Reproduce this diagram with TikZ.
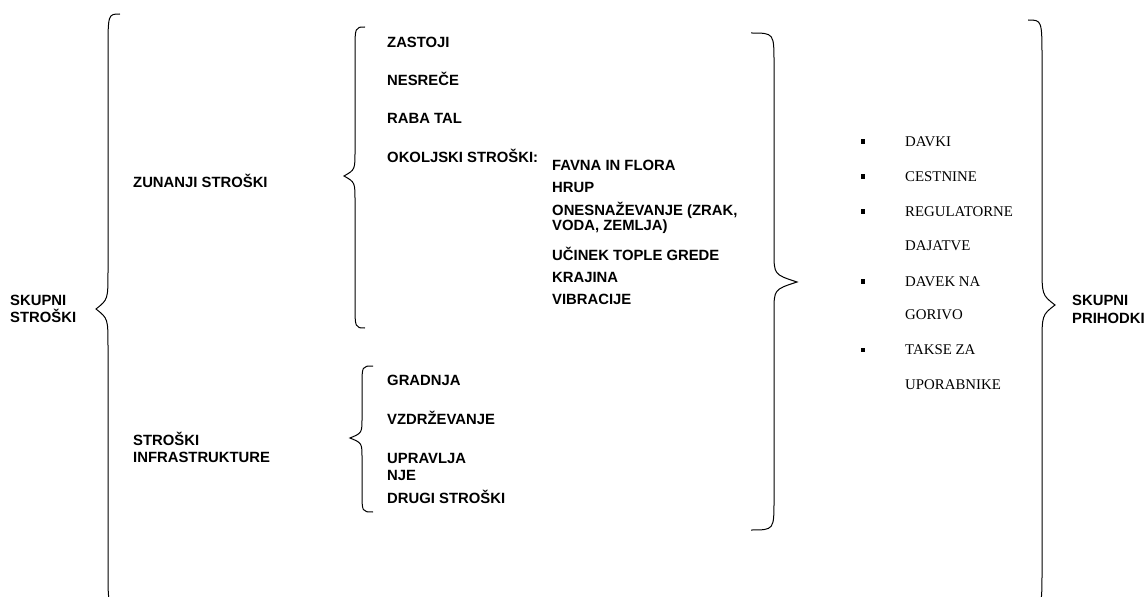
\documentclass[tikz,border=0pt]{standalone}
\usepackage{fontspec}
\setmainfont{Liberation Serif}
\setsansfont{Liberation Sans}
\usepackage{tikz}
\tikzstyle{lbl} = [font=\sffamily\bfseries\fontsize{14.9}{17}\selectfont, inner sep=0pt, anchor=base west, align=left]
\tikzstyle{item} = [font=\rmfamily\fontsize{14.9}{17}\selectfont, inner sep=0pt, anchor=base west]
\tikzstyle{bullet} = [fill, inner sep=0pt, minimum size=4.5bp]
\tikzstyle{brc} = [line width=1bp]
% brace: x end, x line, x tip, y top, y tip, y bottom, radius
\newcommand{\bracepath}[7]{%
  \draw[brc] (#1,#4) .. controls (#2,#4) .. (#2,#4+#7) -- (#2,#5-#7)
    .. controls (#2,#5-0.25*#7) .. (#3,#5) .. controls (#2,#5+0.25*#7) .. (#2,#5+#7)
    -- (#2,#6-#7) .. controls (#2,#6) .. (#1,#6);}

\begin{document}
\begin{tikzpicture}[x=1bp, y=-1bp]
            \useasboundingbox (0,0) rectangle (1147,597);
            
            \bracepath{120}{108}{96}{14}{309}{606}{38}
            \bracepath{365}{355}{344}{27}{176}{328}{25}
            \bracepath{373}{362}{350}{366}{438}{512}{20}
            \bracepath{751}{774}{797}{33}{282}{530}{30}
            \bracepath{1028}{1042}{1055}{20}{305}{608}{40}
            
            \node (skupnistr) [lbl] at (10,322.3) {SKUPNI\\STROŠKI};
            \node (zunanji) [lbl] at (133,187.3) {ZUNANJI STROŠKI};
            \node (infra) [lbl] at (133,462.8) {STROŠKI\\INFRASTRUKTURE};
            
            \node (zastoji) [lbl] at (387,47.3) {ZASTOJI};
            \node (nesrece) [lbl] at (387,85.8) {NESREČE};
            \node (raba) [lbl] at (387,123.8) {RABA TAL};
            \node (okoljski) [lbl] at (387,162.3) {OKOLJSKI STROŠKI:};
            
            \node (favna) [lbl] at (552,170.3) {FAVNA IN FLORA};
            \node (hrup) [lbl] at (552,192.3) {HRUP};
            \node (onesn) [lbl] at (552,230.8) {ONESNAŽEVANJE (ZRAK,\\[-2bp]VODA, ZEMLJA)};
            \node (ucinek) [lbl] at (552,260.3) {UČINEK TOPLE GREDE};
            \node (krajina) [lbl] at (552,282.3) {KRAJINA};
            \node (vibracije) [lbl] at (552,304.3) {VIBRACIJE};
            
            \node (gradnja) [lbl] at (387,385.3) {GRADNJA};
            \node (vzdrz) [lbl] at (387,424.3) {VZDRŽEVANJE};
            \node (upravlja) [lbl] at (387,480.3) {UPRAVLJA\\NJE};
            \node (drugi) [lbl] at (387,503.3) {DRUGI STROŠKI};
            
            \node (bdavki) [bullet] at (863,141.5) {};
            \node (bcest) [bullet] at (863,176.5) {};
            \node (bregul) [bullet] at (863,211.5) {};
            \node (bdavek) [bullet] at (863,281.5) {};
            \node (btakse) [bullet] at (863,350) {};
            
            \node (davki) [item] at (905,146.4) {DAVKI};
            \node (cestnine) [item] at (905,181.4) {CESTNINE};
            \node (regul) [item] at (905,216.4) {REGULATORNE};
            \node (dajatve) [item] at (905,250.9) {DAJATVE};
            \node (davek) [item] at (905,286.4) {DAVEK NA};
            \node (gorivo) [item] at (905,319.4) {GORIVO};
            \node (takse) [item] at (905,354.9) {TAKSE ZA};
            \node (uporab) [item] at (905,389.9) {UPORABNIKE};
            
            \node (prihodki) [lbl] at (1072,323.3) {SKUPNI\\[1bp]PRIHODKI};
        \end{tikzpicture}
\end{document}
